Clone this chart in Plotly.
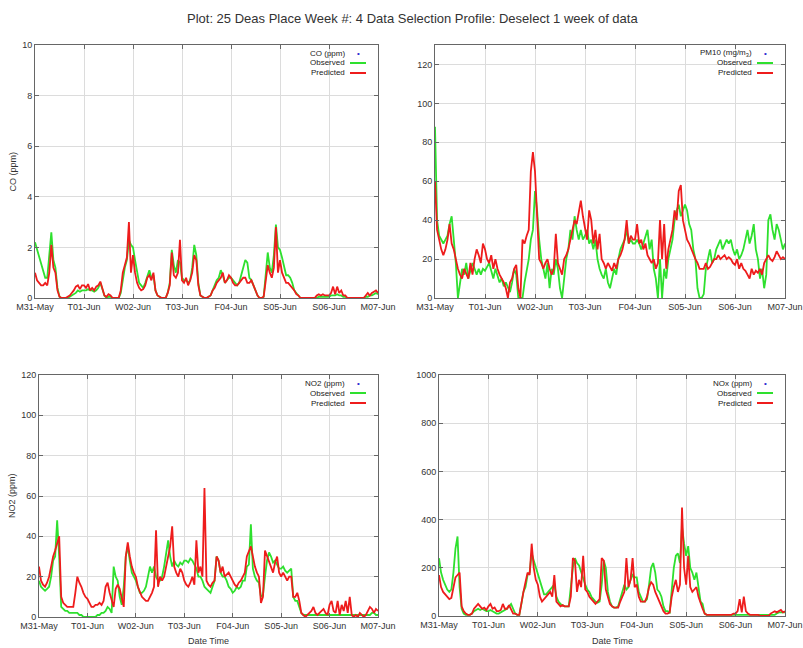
import pandas as pd
import plotly.graph_objects as go

# Hourly time axis for the week
hours = pd.date_range("2010-05-31 00:00", "2010-06-07 00:00", freq="h")
day_ticks = pd.date_range("2010-05-31", "2010-06-07", freq="D")
tick_labels = ["M31-May", "T01-Jun", "W02-Jun", "T03-Jun", "F04-Jun",
               "S05-Jun", "S06-Jun", "M07-Jun"]

# CO (ppm)
co_obs = [
    2.2, 1.9, 1.6, 1.3, 1.0, 0.8, 0.8, 1.6, 2.6, 1.5, 1.2, 0.4, 0.05, 0.0, 0.0, 0.0, 0.0, 0.05, 0.1, 0.15, 0.2, 0.3, 0.25, 0.3,
    0.3, 0.3, 0.35, 0.3, 0.3, 0.25, 0.3, 0.4, 0.6, 0.3, 0.1, 0.0, 0.05, 0.05, 0.0, 0.0, 0.0, 0.0, 0.2, 0.8, 1.2, 1.5, 2.3, 2.1,
    2.0, 1.5, 1.0, 0.6, 0.5, 0.4, 0.6, 0.9, 1.1, 0.8, 0.9, 0.3, 0.1, 0.05, 0.0, 0.0, 0.0, 0.2, 0.6, 1.9, 1.3, 1.0, 1.5, 1.4,
    0.8, 0.7, 0.7, 0.6, 0.7, 1.2, 2.1, 1.7, 0.6, 0.1, 0.05, 0.0, 0.0, 0.05, 0.1, 0.3, 0.5, 0.7, 0.8, 1.1, 0.9, 0.6, 0.7, 0.8,
    0.8, 0.7, 0.6, 0.5, 0.6, 0.9, 1.2, 1.5, 1.4, 0.8, 0.7, 0.5, 0.3, 0.1, 0.0, 0.0, 0.05, 1.0, 1.8, 1.2, 1.0, 1.7, 2.9, 2.0,
    1.9, 1.6, 1.2, 0.9, 0.9, 0.8, 0.6, 0.3, 0.2, 0.1, 0.0, 0.0, 0.0, 0.0, 0.0, 0.0, 0.0, 0.0, 0.0, 0.05, 0.05, 0.05, 0.05, 0.05,
    0.05, 0.1, 0.1, 0.1, 0.15, 0.1, 0.1, 0.05, 0.05, 0.0, 0.0, 0.0, 0.0, 0.0, 0.0, 0.0, 0.0, 0.0, 0.05, 0.05, 0.1, 0.1, 0.15, 0.2,
    0.15,
]
co_pred = [
    1.0, 0.7, 0.6, 0.5, 0.5, 0.6, 0.5, 1.0, 2.1, 1.2, 1.0, 0.3, 0.05, 0.0, 0.0, 0.0, 0.05, 0.1, 0.2, 0.3, 0.45, 0.5, 0.35, 0.5,
    0.5, 0.4, 0.55, 0.3, 0.4, 0.3, 0.45, 0.5, 0.65, 0.35, 0.1, 0.05, 0.15, 0.1, 0.0, 0.0, 0.0, 0.0, 0.3, 1.0, 1.3, 1.6, 3.0, 1.0,
    1.7, 1.0, 0.6, 0.4, 0.3, 0.35, 0.5, 0.8, 0.9, 0.7, 1.0, 0.3, 0.1, 0.05, 0.0, 0.0, 0.0, 0.2, 0.5, 1.8, 0.9, 0.8, 1.0, 2.3,
    0.7, 0.6, 0.8, 0.5, 0.7, 1.0, 1.7, 1.5, 0.5, 0.1, 0.05, 0.0, 0.0, 0.05, 0.1, 0.3, 0.4, 0.6, 0.7, 0.8, 1.0, 0.6, 0.7, 0.9,
    0.8, 0.6, 0.5, 0.5, 0.6, 0.7, 0.8, 0.8, 0.6, 0.6, 0.7, 0.5, 0.3, 0.1, 0.0, 0.0, 0.05, 0.8, 1.3, 1.0, 0.8, 1.2, 2.8, 1.0,
    1.5, 1.0, 0.8, 0.6, 0.6, 0.5, 0.4, 0.3, 0.15, 0.1, 0.0, 0.0, 0.0, 0.0, 0.0, 0.0, 0.0, 0.0, 0.1, 0.15, 0.1, 0.15, 0.1, 0.1,
    0.1, 0.2, 0.45, 0.15, 0.45, 0.2, 0.3, 0.1, 0.1, 0.0, 0.0, 0.0, 0.0, 0.0, 0.0, 0.0, 0.0, 0.0, 0.1, 0.2, 0.1, 0.2, 0.25, 0.3,
    0.2,
]

# PM10 (mg/m3)
pm10_obs = [
    88, 40, 32, 30, 28, 30, 32, 38, 42, 30, 18, 0, 8, 15, 12, 18, 10, 14, 18, 15, 12, 15, 12, 15,
    14, 16, 18, 14, 10, 15, 12, 8, 10, 6, 8, 5, 3, 8, 15, 12, 0, 0, 0, 8, 15, 20, 30, 35,
    55, 45, 30, 20, 15, 10, 18, 5, 15, 12, 20, 15, 5, 0, 10, 20, 25, 35, 30, 42, 35, 30, 35, 30,
    32, 35, 28, 30, 25, 30, 20, 15, 12, 10, 15, 8, 5, 10, 15, 12, 20, 25, 28, 30, 35, 28, 30, 28,
    28, 30, 28, 25, 28, 32, 35, 25, 30, 15, 10, 0, 20, 0, 15, 10, 20, 25, 30, 40, 45, 48, 42, 45,
    48, 45, 38, 35, 25, 20, 5, 0, 0, 2, 15, 20, 25, 18, 20, 25, 28, 30, 25, 28, 30, 28, 30, 25,
    22, 25, 20, 22, 25, 30, 35, 28, 32, 38, 25, 20, 10, 15, 5, 12, 40, 43, 35, 30, 38, 35, 30, 25,
    28,
]
pm10_pred = [
    60, 35, 30, 25, 22, 25, 30, 38, 28, 25, 20, 15, 12, 10, 15, 12, 10, 18, 12, 20, 25, 22, 18, 28,
    25, 20, 18, 22, 15, 20, 15, 12, 10, 8, 5, 0, 8, 10, 15, 17, 5, 0, 30, 28, 32, 35, 65, 75,
    65, 40, 20, 18, 15, 18, 20, 15, 12, 15, 33, 18, 15, 12, 20, 22, 25, 30, 35, 40, 38, 45, 50, 42,
    35, 30, 45, 40, 28, 35, 25, 33, 20, 18, 15, 18, 16, 14, 18, 15, 20, 22, 25, 30, 40, 28, 32, 30,
    30, 38, 28, 30, 25, 28, 22, 20, 18, 20, 15, 18, 40, 20, 38, 15, 25, 30, 35, 45, 40, 55, 58, 40,
    35, 30, 28, 25, 22, 20, 18, 15, 15, 15, 18, 15, 16, 18, 20, 20, 22, 20, 21, 22, 20, 21, 20, 18,
    17, 20, 15, 18, 15, 14, 12, 10, 15, 12, 14, 13, 15, 12, 18, 20, 22, 20, 19, 21, 24, 22, 20, 21,
    20,
]

# NO2 (ppm)
no2_obs = [
    18, 15, 14, 13, 14, 15, 20, 28, 30, 48, 30, 5, 4, 3, 3, 2, 2, 2, 2, 2, 1, 1, 0, 0,
    0, 0, 0, 0, 0, 1, 1, 2, 2, 3, 5, 4, 2, 25, 20, 18, 10, 6, 15, 30, 35, 28, 22, 20,
    18, 15, 12, 12, 13, 15, 20, 25, 22, 25, 20, 18, 18, 20, 25, 32, 38, 30, 25, 28, 26, 25, 27, 26,
    28, 28, 27, 29, 28, 26, 24, 20, 20, 18, 15, 14, 13, 12, 15, 18, 30, 28, 22, 20, 20, 18, 15, 14,
    12, 13, 15, 14, 15, 18, 18, 25, 26, 46, 24, 20, 18, 17, 10, 11, 20, 28, 32, 30, 27, 28, 26, 24,
    24, 25, 23, 22, 23, 24, 10, 8, 8, 5, 2, 1, 1, 1, 1, 1, 1, 1, 1, 1, 1, 1, 1, 1,
    1, 1, 1, 1, 1, 1, 1, 1, 1, 1, 1, 1, 1, 1, 1, 1, 1, 1, 1, 1, 1, 2, 2, 1,
    1,
]
no2_pred = [
    25, 18, 16, 15, 17, 20, 25, 30, 33, 37, 40, 10, 7, 6, 5, 5, 5, 5, 12, 20, 17, 15, 12, 10,
    9, 7, 5, 5, 6, 6, 7, 6, 8, 15, 17, 12, 8, 5, 14, 16, 14, 10, 5, 30, 37, 30, 25, 22,
    20, 15, 12, 10, 9, 8, 8, 10, 12, 15, 43, 15, 20, 18, 20, 25, 30, 35, 45, 25, 22, 20, 24, 22,
    18, 16, 15, 17, 20, 16, 38, 22, 25, 20, 64, 18, 16, 15, 17, 18, 30, 28, 22, 25, 20, 21, 22, 20,
    18, 16, 15, 17, 18, 20, 22, 30, 33, 35, 30, 25, 22, 20, 7, 10, 33, 30, 28, 25, 22, 27, 30, 22,
    20, 22, 20, 18, 20, 20, 10, 10, 12, 8, 2, 1, 0, 1, 2, 3, 5, 2, 1, 2, 3, 4, 2, 1,
    6, 8, 3, 2, 8, 1, 6, 3, 8, 2, 10, 1, 0, 1, 0, 2, 1, 0, 1, 3, 5, 4, 2, 4,
    3,
]

# NOx (ppm)
nox_obs = [
    240, 180, 150, 130, 110, 100, 110, 180, 280, 330, 120, 30, 10, 5, 5, 5, 10, 20, 25, 30, 25, 30, 25, 20,
    20, 25, 20, 15, 10, 10, 15, 20, 25, 30, 40, 50, 30, 10, 5, 5, 50, 100, 120, 170, 180, 260, 230, 200,
    180, 150, 110, 90, 90, 100, 110, 120, 130, 80, 60, 50, 45, 40, 40, 40, 120, 200, 240, 220, 210, 180, 150, 130,
    110, 100, 80, 70, 60, 55, 60, 130, 230, 200, 100, 60, 40, 35, 35, 40, 70, 100, 130, 110, 120, 150, 170, 160,
    160, 100, 80, 60, 60, 70, 130, 200, 220, 180, 110, 100, 80, 40, 20, 20, 15, 120, 200, 250, 260, 220, 370, 300,
    250, 290, 200, 180, 150, 180, 110, 60, 50, 10, 5, 5, 5, 5, 5, 5, 5, 5, 5, 5, 5, 5, 5, 5,
    5, 5, 5, 5, 5, 5, 5, 5, 5, 5, 5, 5, 5, 5, 5, 5, 5, 5, 5, 5, 10, 15, 15, 15,
    15,
]
nox_pred = [
    170, 120, 100, 90, 80, 70, 75, 120, 160, 170, 180, 40, 20, 10, 5, 5, 10, 30, 40, 50, 40, 30, 35, 25,
    40, 50, 30, 35, 20, 20, 25, 50, 30, 30, 45, 30, 10, 10, 5, 5, 60, 100, 140, 180, 170, 300, 200, 150,
    130, 80, 60, 70, 80, 90, 100, 80, 170, 60, 50, 40, 45, 40, 40, 40, 80, 240, 230, 100, 150, 120, 250, 110,
    100, 80, 70, 60, 50, 60, 70, 240, 230, 110, 80, 50, 40, 35, 35, 35, 60, 80, 100, 240, 120, 150, 240, 120,
    130, 80, 60, 60, 60, 80, 120, 140, 130, 100, 80, 60, 40, 20, 10, 10, 15, 80, 120, 150, 100, 130, 450, 200,
    130, 250, 120, 100, 110, 120, 80, 50, 30, 10, 5, 5, 5, 5, 5, 5, 5, 5, 5, 5, 5, 5, 5, 10,
    10, 20, 70, 15, 80, 20, 10, 5, 5, 5, 5, 5, 0, 0, 0, 0, 0, 10, 15, 20, 15, 20, 25, 15,
    20,
]

W, H = 803, 648
OBS_COLOR = "#2ee02e"
PRED_COLOR = "#ee1c1c"
FONT = "Liberation Sans, Arial, sans-serif"

# panel: (series label, y title, obs, pred, y range, y tick step, box px (x0, x1, y0, y1), show x title)
panels = [
    ("CO (ppm)", "CO (ppm)", co_obs, co_pred, 10, 2, (35, 378, 45, 298), False),
    ("PM10 (mg/m<sub>3</sub>)", None, pm10_obs, pm10_pred, 130, 20, (435, 785, 45, 298), False),
    ("NO2 (ppm)", "NO2 (ppm)", no2_obs, no2_pred, 120, 20, (39, 378, 375, 617), True),
    ("NOx (ppm)", None, nox_obs, nox_pred, 1000, 200, (439, 785, 375, 616), True),
]

fig = go.Figure()
annotations = []
shapes = []

for i, (label, ytitle, obs, pred, ymax, ystep, box, xtitle) in enumerate(panels, start=1):
    x0, x1, y0, y1 = box
    xa = "x" if i == 1 else f"x{i}"
    ya = "y" if i == 1 else f"y{i}"
    fig.add_trace(go.Scatter(x=hours, y=obs, mode="lines", xaxis=xa, yaxis=ya,
                             line=dict(color=OBS_COLOR, width=1.8), showlegend=False))
    fig.add_trace(go.Scatter(x=hours, y=pred, mode="lines", xaxis=xa, yaxis=ya,
                             line=dict(color=PRED_COLOR, width=1.8), showlegend=False))

    axis_common = dict(showgrid=True, gridcolor="#dcdcdc", gridwidth=1,
                       showline=True, linecolor="#666666", linewidth=1, mirror="ticks",
                       ticks="inside", ticklen=4, tickcolor="#666666",
                       tickfont=dict(family=FONT, size=9, color="#333333"),
                       zeroline=False, automargin=False, fixedrange=True)
    fig.update_layout({
        ("xaxis" if i == 1 else f"xaxis{i}"): dict(
            domain=[x0 / W, x1 / W], anchor=ya,
            range=[day_ticks[0], day_ticks[-1]],
            tickmode="array", tickvals=day_ticks, ticktext=tick_labels,
            **axis_common),
        ("yaxis" if i == 1 else f"yaxis{i}"): dict(
            domain=[1 - y1 / H, 1 - y0 / H], anchor=xa,
            range=[0, ymax], tickmode="linear", tick0=0, dtick=ystep,
            **axis_common),
    })

    # key in the upper right corner: right-aligned text, sample to the right
    key_text_x = (x1 - 31) / W
    rows = [(label, "dot"), ("Observed", OBS_COLOR), ("Predicted", PRED_COLOR)]
    for r, (txt, sample) in enumerate(rows):
        yy = y0 + 8 + r * 10
        annotations.append(dict(x=key_text_x, y=1 - yy / H, xref="paper", yref="paper",
                                text=txt, showarrow=False, xanchor="right", yanchor="middle",
                                font=dict(family=FONT, size=8, color="#222222")))
        if sample == "dot":
            annotations.append(dict(x=(x1 - 20) / W, y=1 - yy / H, xref="paper", yref="paper",
                                    text="•", showarrow=False, xanchor="center", yanchor="middle",
                                    font=dict(family=FONT, size=8, color="#2a2ad0")))
        else:
            shapes.append(dict(type="line", xref="paper", yref="paper",
                               x0=(x1 - 28) / W, x1=(x1 - 12) / W,
                               y0=1 - yy / H, y1=1 - yy / H,
                               line=dict(color=sample, width=2)))

    if ytitle:
        annotations.append(dict(x=12 / W, y=1 - (y0 + y1) / 2 / H, xref="paper", yref="paper",
                                text=ytitle, textangle=-90, showarrow=False,
                                xanchor="center", yanchor="middle",
                                font=dict(family=FONT, size=9, color="#333333")))
    if xtitle:
        annotations.append(dict(x=(x0 + x1) / 2 / W, y=1 - 641 / H, xref="paper", yref="paper",
                                text="Date Time", showarrow=False,
                                xanchor="center", yanchor="middle",
                                font=dict(family=FONT, size=9, color="#333333")))

annotations.append(dict(x=413 / W, y=1 - 18 / H, xref="paper", yref="paper",
                        text="Plot: 25 Deas Place Week #: 4 Data Selection Profile: Deselect 1 week of data",
                        showarrow=False, xanchor="center", yanchor="middle",
                        font=dict(family=FONT, size=13, color="#333333")))

fig.update_layout(width=W, height=H, margin=dict(l=0, r=0, t=0, b=0),
                  paper_bgcolor="white", plot_bgcolor="white",
                  showlegend=False, annotations=annotations, shapes=shapes)

fig.write_html("out.html")
